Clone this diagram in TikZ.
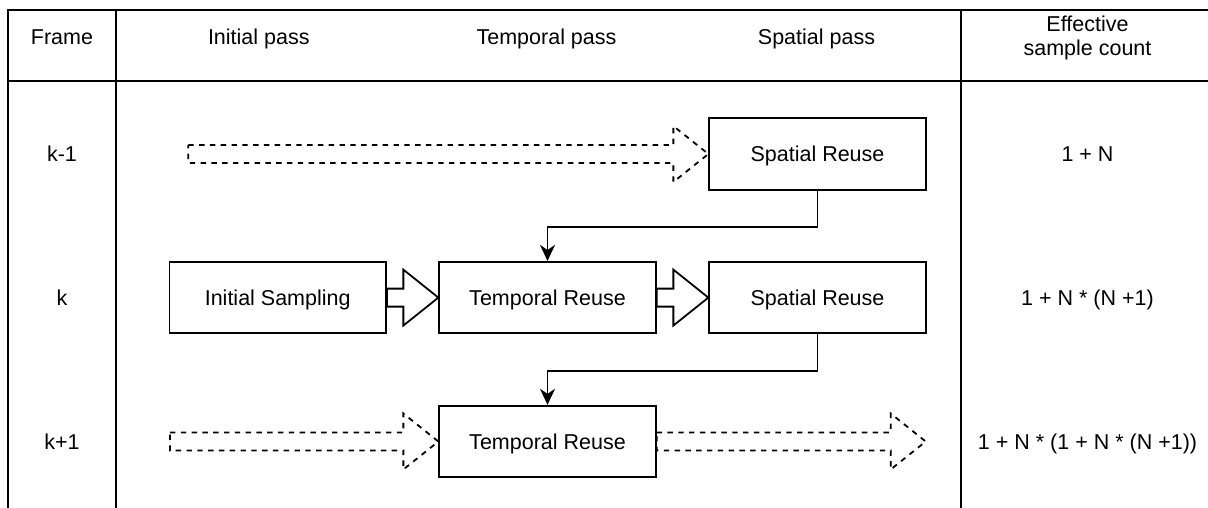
\documentclass[tikz,border=0pt]{standalone}
\usepackage{fontspec}
\setmainfont{Liberation Sans}
\usetikzlibrary{calc,arrows.meta}
\tikzset{
  lw/.style={line width=1.8pt},
  txt/.style={font=\fontsize{21.5}{24}\selectfont, inner sep=0pt, text height=19.5pt, text depth=4.5pt},
  procbox/.style={draw, lw, txt, minimum width=216.5pt, minimum height=71.5pt},
  conn/.style={draw, lw, -{Stealth[length=16pt,width=15pt,inset=5pt]}},
  blksolid/.style={draw, lw, line join=miter},
  blkdash/.style={draw, lw, line join=miter, dash pattern=on 5.4pt off 5.4pt},
}
\newcommand\blkarrow[3]{%
  \draw[#3] ($(#1)+(0,-9)$) -- ($(#2)+(-35,-9)$) -- ($(#2)+(-35,-28)$) -- (#2)
    -- ($(#2)+(-35,28)$) -- ($(#2)+(-35,9)$) -- ($(#1)+(0,9)$) -- cycle;}
\begin{document}
\begin{tikzpicture}[x=1pt,y=-1pt]
\useasboundingbox (0,0) rectangle (1208,508);
% table grid
\draw[lw] (8,509) -- (8,10) -- (1210,10);
\draw[lw] (8,81) -- (1210,81);
\draw[lw] (116,10) -- (116,509);
\draw[lw] (961,10) -- (961,509);
% headers
\node[txt] (hframe) at (62,37.5) {Frame};
\node[txt] (hinit) at (258.8,37.5) {Initial pass};
\node[txt] (htemp) at (546.5,37.5) {Temporal pass};
\node[txt] (hspat) at (816.5,37.5) {Spatial pass};
\node[font=\fontsize{21.5}{24}\selectfont, inner sep=0pt, align=center] (hcount) at (1087.5,37.5) {Effective\\sample count};
% row labels
\node[txt] (rk1) at (62,154) {k-1};
\node[txt] (rk) at (62,297.5) {k};
\node[txt] (rk2) at (62,441.5) {k+1};
% counts
\node[txt] (c1) at (1087.5,154) {1 + N};
\node[txt] (c2) at (1087.5,297.5) {1 + N * (N +1)};
\node[txt] (c3) at (1087.5,441.5) {1 + N * (1 + N * (N +1))};
% boxes
\node[procbox] (sk1) at (817.5,154) {Spatial Reuse};
\node[procbox] (is) at (277.7,297.6) {Initial Sampling};
\node[procbox] (tr) at (547.5,297.6) {Temporal Reuse};
\node[procbox] (sk) at (817.5,297.6) {Spatial Reuse};
\node[procbox] (tr1) at (547.5,441.5) {Temporal Reuse};
% free ends of dashed block arrows
\coordinate (s1) at (188.3,154);
\coordinate (s3) at (170,441.5);
\coordinate (e3) at (925.7,441.5);
% block arrows
\blkarrow{s1}{sk1.west}{blkdash}
\blkarrow{is.east}{tr.west}{blksolid}
\blkarrow{tr.east}{sk.west}{blksolid}
\blkarrow{s3}{tr1.west}{blkdash}
\blkarrow{tr1.east}{e3}{blkdash}
% connectors
\draw[conn] (sk1.south) -- ++(0,36) -| (tr.north);
\draw[conn] (sk.south) -- ++(0,36.5) -| (tr1.north);
\end{tikzpicture}
\end{document}
